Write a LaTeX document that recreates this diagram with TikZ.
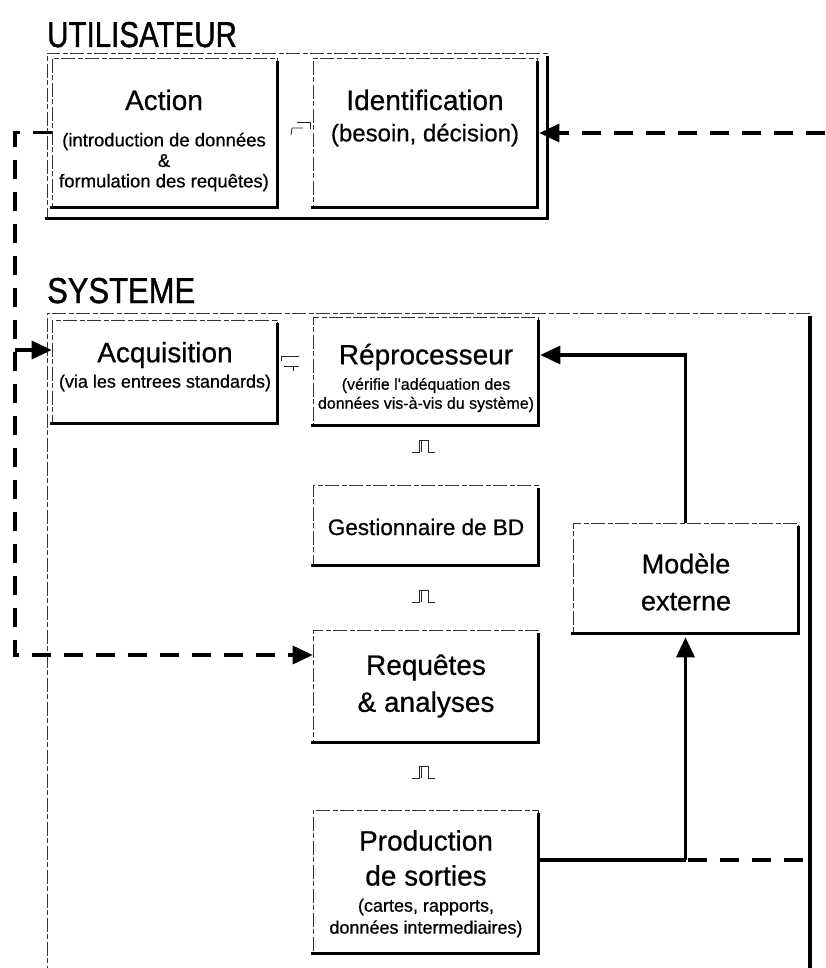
\documentclass[tikz,border=0pt]{standalone}
\usepackage{fontspec}
\setmainfont{Liberation Sans}
\newfontfamily\inkface{Liberation Sans}[FakeBold=0.6]
\newfontfamily\titleface{Liberation Sans}[FakeBold=1.2]
\usetikzlibrary{arrows.meta,calc}

% heavy right/bottom edge that gives each box its drop shadow
\newcommand\castshadow[1]{\draw[heavy] ([yshift=-5pt]#1.north east) -- (#1.south east) -- (#1.south west);}

\begin{document}
\begin{tikzpicture}[x=1pt,y=-1pt,
  frame/.style={draw=black!80, line width=0.6pt,
    dash pattern=on 14pt off 2pt on 5pt off 3pt, inner sep=0pt},
  heavy/.style={line width=3.4pt, line cap=rect},
  flow/.style={line width=3.2pt, -{Triangle[length=20pt,width=18pt]}},
  dflow/.style={flow, dash pattern=on 19pt off 13pt},
  dline/.style={line width=3.2pt, dash pattern=on 19pt off 13pt},
  tick/.style={line width=0.8pt, draw=black!85},
  big/.style={font=\inkface\fontsize{28}{37}\selectfont, align=center, inner sep=0pt},
  mid/.style={font=\inkface\fontsize{22.5}{26}\selectfont, align=center, inner sep=0pt},
  small/.style={font=\inkface\fontsize{18}{20.5}\selectfont, align=center, inner sep=0pt},
  tiny/.style={font=\inkface\fontsize{16}{19}\selectfont, align=center, inner sep=0pt},
  heading/.style={font=\titleface\fontsize{36}{37}\selectfont, anchor=base west, inner sep=0pt}
]
\useasboundingbox (0,0) rectangle (825,968);

% ---------------- UTILISATEUR ----------------
\node[heading] (hU) at (47,47) {\scalebox{0.82}[1]{UTILISATEUR}};
\node[frame, minimum width=500pt, minimum height=165pt] (grpU) at (297,135.5) {};
\castshadow{grpU}

\node[frame, fill=white, minimum width=225pt, minimum height=149pt] (act) at (164.5,132.5) {};
\castshadow{act}
\node[big] (actT) at (164,100) {Action};
\node[small, font=\inkface\fontsize{18.5}{20.5}\selectfont] (actS) at (164,162) {(introduction de données\\\&\\formulation des requêtes)};

\node[frame, fill=white, minimum width=224pt, minimum height=149pt] (ident) at (425,132.5) {};
\castshadow{ident}
\node[big] (identT) at (425,100) {Identification};
\node[mid, font=\inkface\fontsize{24}{26}\selectfont] (identS) at (425,135) {(besoin, décision)};

% exchange mark between the two user boxes
\draw[tick] (291,135) -- (292,128) -- (303,128);
\draw[tick] (297,122) -- (310,122) -- (310,129);

% ---------------- SYSTEME ----------------
\node[heading] (hS) at (47,303) {\scalebox{0.86}[1]{SYSTEME}};
\coordinate (sysNE) at (810,313);
\coordinate (sysSE) at (810,968);
\draw[frame] (sysNE) -- (47,313) -- (47,968);
\draw[heavy, line cap=butt] ([yshift=-3pt]sysNE) -- (sysSE);

\node[frame, fill=white, minimum width=225pt, minimum height=103pt] (acq) at (164.5,371.5) {};
\castshadow{acq}
\node[big] (acqT) at (165,355) {Acquisition};
\node[small] (acqS) at (165,383) {(via les entrees standards)};

\node[frame, fill=white, minimum width=225pt, minimum height=108pt] (repro) at (425.5,371) {};
\castshadow{repro}
\node[big] (reproT) at (426,357) {Réprocesseur};
\node[tiny] (reproS) at (426,395) {(vérifie l'adéquation des\\données vis-à-vis du système)};

\node[frame, fill=white, minimum width=225pt, minimum height=80pt] (gest) at (425.5,525) {};
\castshadow{gest}
\node[mid] (gestT) at (426,527) {Gestionnaire de BD};

\node[frame, fill=white, minimum width=225pt, minimum height=112pt] (req) at (425.5,686) {};
\castshadow{req}
\node[big] (reqT) at (426,686) {Requêtes\\\& analyses};

\node[frame, fill=white, minimum width=225pt, minimum height=143pt] (prod) at (425.5,881.5) {};
\castshadow{prod}
\node[big, font=\inkface\fontsize{28}{35}\selectfont] (prodT) at (426,858) {Production\\de sorties};
\node[small, font=\inkface\fontsize{18}{22}\selectfont] (prodS) at (426,918) {(cartes, rapports,\\données intermediaires)};

\node[frame, fill=white, minimum width=225pt, minimum height=110pt] (mod) at (685.5,578) {};
\castshadow{mod}
\node[big, font=\inkface\fontsize{27}{37}\selectfont] (modT) at (686,582) {Modèle\\externe};

% exchange mark between Acquisition and Réprocesseur
\draw[tick] (299,356) -- (281,356) -- (281,361);
\draw[tick] (284,366) -- (299,366);
\draw[tick] (293,366) -- (293,371);

% two-way marks between the stacked system boxes
\foreach \yy/\nm in {452/pA, 602/pB, 778/pC}{
  \coordinate (\nm) at (425,\yy);
  \draw[tick] ([xshift=-13pt]\nm) -- ([xshift=-6pt]\nm) -- ([xshift=-6pt,yshift=12pt]\nm)
     -- ([xshift=3pt,yshift=12pt]\nm) -- ([xshift=3pt]\nm) -- ([xshift=10pt]\nm);
  \draw[tick] ([xshift=-4pt]\nm) -- ([xshift=-4pt,yshift=11pt]\nm);
}

% ---------------- connectors ----------------
\coordinate (rin) at (825,133);
\draw[dflow] (rin) -- ([xshift=2pt]ident.east |- rin);

\coordinate (lcA) at (15,350);
\coordinate (lcB) at (15,655);
\draw[dflow] (act.west) -| (lcB) -- (req.west |- lcB);
\draw[flow] (lcA) -- (acq.west |- lcA);

\coordinate (mtop) at (mod.north |- 0,355);
\draw[flow] (mod.north) -- (mtop) -- ([xshift=2pt]repro.east |- mtop);

\coordinate (split) at (mod.south |- 0,860);
\draw[line width=3.2pt] ([xshift=1pt]prod.east |- split) -- (split);
\draw[flow] (split) -- ([yshift=-4pt]mod.south);
\draw[dline] ([xshift=2pt]split) -- (split -| sysNE);

\end{tikzpicture}
\end{document}
